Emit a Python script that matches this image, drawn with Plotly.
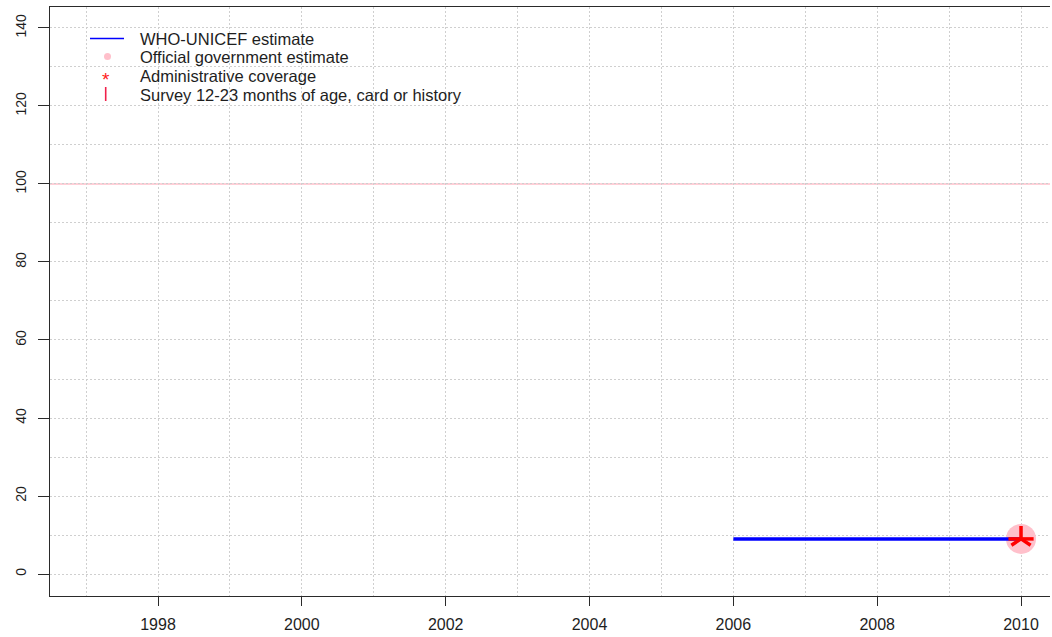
import plotly.graph_objects as go

years_wuenic = [2006, 2007, 2008, 2009, 2010]
wuenic = [9, 9, 9, 9, 9]
years_official = [2010]
official = [9]
years_admin = [2010]
admin = [9]
survey_years = []
survey = []
y_ticks = [0, 20, 40, 60, 80, 100, 120, 140]
x_ticks = [1998, 2000, 2002, 2004, 2006, 2008, 2010]
legend_labels = ["WHO-UNICEF estimate", "Official government estimate",
                 "Administrative coverage", "Survey 12-23 months of age, card or history"]

FONT = "Liberation Sans, Arial, sans-serif"
TXT = "#1e1e1e"

fig = go.Figure()

fig.add_hline(y=100, line=dict(color="#FFC0CB", width=1.3), layer="below")

fig.add_trace(go.Scatter(x=years_official, y=official, mode="markers",
                         marker=dict(color="#FFC0CB", size=30, symbol="circle"),
                         showlegend=False, hoverinfo="skip"))
fig.add_trace(go.Scatter(x=years_wuenic, y=wuenic, mode="lines",
                         line=dict(color="#0000FF", width=3.5), showlegend=False))
# administrative coverage drawn as a 5-armed asterisk
fig.add_trace(go.Scatter(x=years_admin, y=admin, mode="markers",
                         marker=dict(color="#FF0000", size=16, symbol="y-up-open",
                                     line=dict(color="#FF0000", width=3.5)),
                         showlegend=False))
fig.add_trace(go.Scatter(x=years_admin, y=admin, mode="markers",
                         marker=dict(color="#FF0000", size=18, symbol="line-ew-open",
                                     line=dict(color="#FF0000", width=3.5)),
                         showlegend=False))
fig.add_trace(go.Scatter(x=survey_years, y=survey, mode="markers",
                         marker=dict(color="#FF0000", size=14, symbol="line-ns-open"),
                         showlegend=False))

# legend (drawn in paper coordinates)
row_y = [0.9457, 0.9143, 0.8829, 0.8514]
for lbl, ry in zip(legend_labels, row_y):
    fig.add_annotation(xref="paper", yref="paper", x=0.088, y=ry, text=lbl,
                       showarrow=False, xanchor="left", yanchor="middle",
                       font=dict(family=FONT, size=16.5, color=TXT))
fig.add_shape(type="line", xref="paper", yref="paper", x0=0.040, x1=0.074,
              y0=0.9465, y1=0.9465, line=dict(color="#0000FF", width=1.5))
fig.add_shape(type="circle", xref="paper", yref="paper", x0=0.054, x1=0.061,
              y0=0.9100, y1=0.9219, fillcolor="#FFC0CB", line=dict(width=0))
fig.add_annotation(xref="paper", yref="paper", x=0.0555, y=row_y[2], text="*",
                   showarrow=False, xanchor="center", yanchor="middle", yshift=-4,
                   font=dict(family=FONT, size=19, color="#FF1A1A"))
fig.add_shape(type="line", xref="paper", yref="paper", x0=0.0557, x1=0.0557,
              y0=0.8404, y1=0.8642, line=dict(color="#F0204A", width=1.6))

grid_col = "#CFCFCF"
fig.update_layout(
    width=1052, height=637,
    margin=dict(l=50, r=2, t=7, b=41),
    paper_bgcolor="white", plot_bgcolor="white",
    font=dict(family=FONT, size=16, color=TXT),
    showlegend=False,
    xaxis=dict(range=[1996.498, 2010.403], tickmode="array", tickvals=x_ticks,
               ticktext=[str(v) for v in x_ticks], automargin=False,
               showline=True, linecolor="#2a2a2a", linewidth=1.2, mirror=True,
               ticks="outside", ticklen=9, tickwidth=1.2, tickcolor="#2a2a2a",
               ticklabelstandoff=5,
               showgrid=True, gridcolor=grid_col, griddash="2px,2px", gridwidth=1,
               minor=dict(dtick=1, tick0=1997, showgrid=True, gridcolor=grid_col,
                          griddash="2px,2px", gridwidth=1, ticks=""),
               zeroline=False, tickfont=dict(family=FONT, size=16, color=TXT)),
    yaxis=dict(range=[-5.64, 145.38], tickmode="array", tickvals=y_ticks,
               ticktext=[str(v) for v in y_ticks], tickangle=-90, automargin=False,
               showline=True, linecolor="#2a2a2a", linewidth=1.2, mirror=False,
               ticks="outside", ticklen=11, tickwidth=1.2, tickcolor="#2a2a2a",
               ticklabelstandoff=6,
               showgrid=True, gridcolor=grid_col, griddash="2px,2px", gridwidth=1,
               minor=dict(dtick=10, tick0=0, showgrid=True, gridcolor=grid_col,
                          griddash="2px,2px", gridwidth=1, ticks=""),
               zeroline=False, tickfont=dict(family=FONT, size=14, color=TXT)),
)

fig.write_html("out.html", config={"displayModeBar": False},
               post_script="document.body.style.margin='0px';document.body.style.overflow='hidden';")
